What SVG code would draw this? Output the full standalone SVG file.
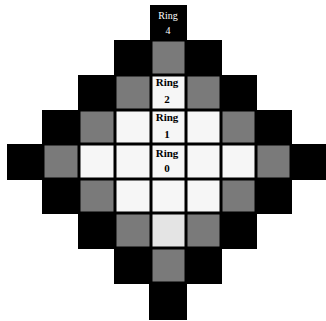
<svg xmlns="http://www.w3.org/2000/svg" width="326" height="321" viewBox="0 0 326 321">
<style>
.b{fill:#000}
.g{fill:#7a7a7a}
.w{fill:#f6f6f6}
.t{font-family:"Liberation Serif","Times New Roman",serif;font-weight:bold;font-size:11px;fill:#000;text-anchor:middle}
.tw{font-family:"Liberation Serif","Times New Roman",serif;font-size:10px;fill:#fff;text-anchor:middle}
</style>
<rect x="0" y="0" width="326" height="321" fill="#fff"/>
<g id="ring4">
<rect class="b" x="150" y="5" width="37" height="36"/>
<rect class="b" x="114" y="40" width="38" height="36"/><rect class="b" x="185" y="40" width="37" height="36"/>
<rect class="b" x="78" y="75" width="38" height="36"/><rect class="b" x="220" y="75" width="37" height="36"/>
<rect class="b" x="42" y="110" width="38" height="35"/><rect class="b" x="255" y="110" width="37" height="35"/>
<rect class="b" x="7" y="144" width="37" height="36"/><rect class="b" x="290" y="144" width="36" height="36"/>
<rect class="b" x="42" y="179" width="38" height="35"/><rect class="b" x="255" y="179" width="37" height="35"/>
<rect class="b" x="78" y="213" width="38" height="36"/><rect class="b" x="220" y="213" width="37" height="36"/>
<rect class="b" x="114" y="248" width="38" height="36"/><rect class="b" x="185" y="248" width="37" height="36"/>
<rect class="b" x="149" y="283" width="38" height="37"/>
</g>
<g id="ring3">
<rect class="b" x="150" y="39" width="37" height="37"/><rect class="g" x="152.5" y="41.5" width="32" height="32"/>
<rect class="b" x="114" y="74" width="38" height="37"/><rect class="g" x="116.5" y="76.5" width="33" height="32"/>
<rect class="b" x="185" y="74" width="37" height="37"/><rect class="g" x="187.5" y="76.5" width="32" height="32"/>
<rect class="b" x="78" y="109" width="38" height="36"/><rect class="g" x="80.5" y="111.5" width="33" height="31"/>
<rect class="b" x="220" y="109" width="37" height="36"/><rect class="g" x="222.5" y="111.5" width="32" height="31"/>
<rect class="b" x="42" y="143" width="38" height="37"/><rect class="g" x="44.5" y="145.5" width="33" height="32"/>
<rect class="b" x="255" y="143" width="37" height="37"/><rect class="g" x="257.5" y="145.5" width="32" height="32"/>
<rect class="b" x="78" y="178" width="38" height="36"/><rect class="g" x="80.5" y="180.5" width="33" height="31"/>
<rect class="b" x="220" y="178" width="37" height="36"/><rect class="g" x="222.5" y="180.5" width="32" height="31"/>
<rect class="b" x="114" y="212" width="38" height="37"/><rect class="g" x="116.5" y="214.5" width="33" height="32"/>
<rect class="b" x="185" y="212" width="37" height="37"/><rect class="g" x="187.5" y="214.5" width="32" height="32"/>
<rect class="b" x="150" y="247" width="37" height="37"/><rect class="g" x="152.5" y="249.5" width="32" height="32"/>
</g>
<g id="ring2">
<rect class="b" x="150" y="74" width="37" height="37"/><rect class="w" x="152.5" y="76.5" width="32" height="32"/>
<rect class="b" x="114" y="109" width="38" height="36"/><rect class="w" x="116.5" y="111.5" width="33" height="31"/>
<rect class="b" x="185" y="109" width="37" height="36"/><rect class="w" x="187.5" y="111.5" width="32" height="31"/>
<rect class="b" x="78" y="143" width="38" height="37"/><rect class="w" x="80.5" y="145.5" width="33" height="32"/>
<rect class="b" x="220" y="143" width="37" height="37"/><rect class="w" x="222.5" y="145.5" width="32" height="32"/>
<rect class="b" x="114" y="178" width="38" height="36"/><rect class="w" x="116.5" y="180.5" width="33" height="31"/>
<rect class="b" x="185" y="178" width="37" height="36"/><rect class="w" x="187.5" y="180.5" width="32" height="31"/>
<rect class="b" x="150" y="212" width="37" height="37"/><rect x="152.5" y="214.5" width="32" height="32" fill="#e4e4e4"/>
</g>
<g id="ring1">
<rect class="b" x="150" y="109" width="37" height="36"/><rect class="w" x="152.5" y="111.5" width="32" height="31"/>
<rect class="b" x="114" y="143" width="38" height="37"/><rect class="w" x="116.5" y="145.5" width="33" height="32"/>
<rect class="b" x="185" y="143" width="37" height="37"/><rect class="w" x="187.5" y="145.5" width="32" height="32"/>
<rect class="b" x="150" y="178" width="37" height="36"/><rect class="w" x="152.5" y="180.5" width="32" height="31"/>
</g>
<g id="ring0">
<rect class="b" x="150" y="143" width="37" height="37"/><rect class="w" x="152.5" y="145.5" width="32" height="32"/>
</g>
<g id="labels">
<text class="tw" x="168" y="19">Ring</text><text class="tw" x="168" y="34">4</text>
<text class="t" x="167" y="86">Ring</text><text class="t" x="167" y="103">2</text>
<text class="t" x="167" y="121">Ring</text><text class="t" x="167" y="138">1</text>
<text class="t" x="167" y="157">Ring</text><text class="t" x="167" y="172">0</text>
</g>
</svg>
